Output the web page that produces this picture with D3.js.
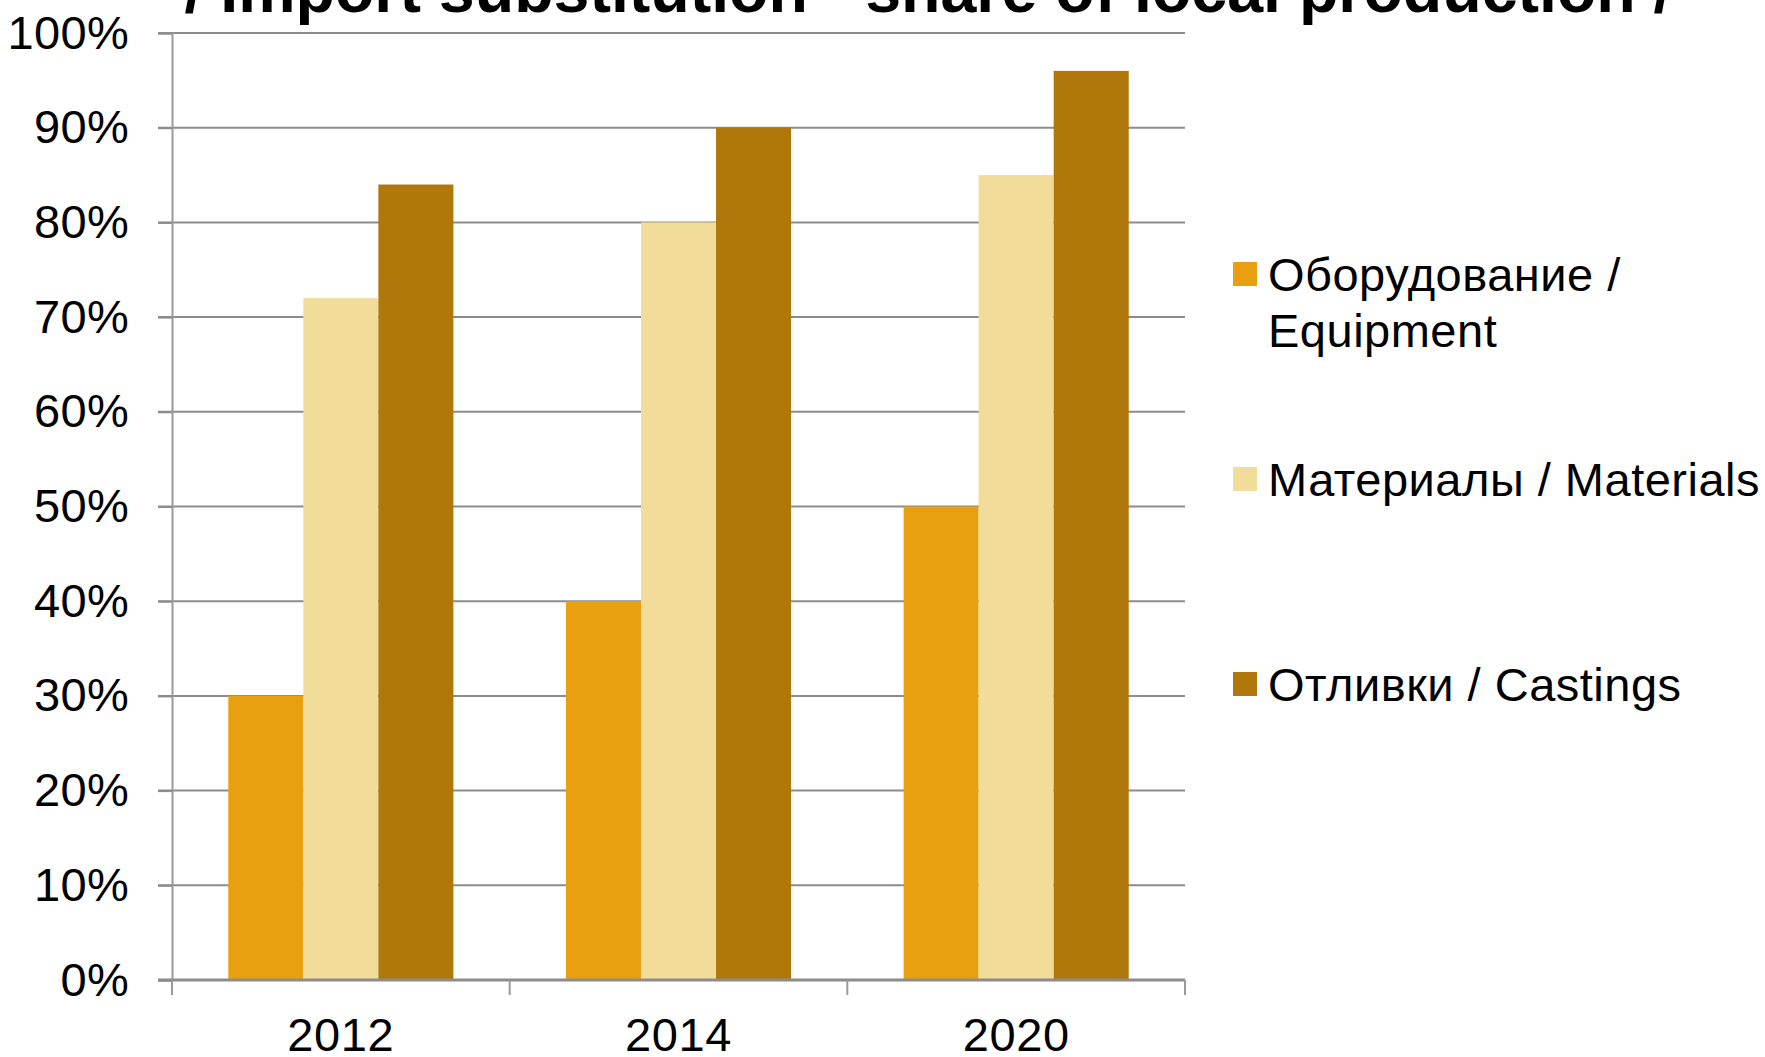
<!DOCTYPE html>
<html><head><meta charset="utf-8">
<script src="https://cdn.jsdelivr.net/npm/d3@7"></script>
<style>
html,body{margin:0;padding:0;background:#fff;}
svg{display:block;font-family:"Liberation Sans",Arial,sans-serif;}
</style></head>
<body>
<svg id="chart" width="1765" height="1057"></svg>
<script>
const categories = ["2012", "2014", "2020"];
const seriesNames = ["Оборудование / Equipment", "Материалы / Materials", "Отливки / Castings"];
const legendLines = [["Оборудование /", "Equipment"], ["Материалы / Materials"], ["Отливки / Castings"]];
const equipment = [0.30, 0.40, 0.50];
const materials = [0.72, 0.80, 0.85];
const castings = [0.84, 0.90, 0.96];
const yTicks = [0, 0.1, 0.2, 0.3, 0.4, 0.5, 0.6, 0.7, 0.8, 0.9, 1.0];
const colors = ["#E9A010", "#F2DC9A", "#B0770B"];
const titleText = "/ Import substitution - share of local production /";

const seriesValues = [equipment, materials, castings];
const svg = d3.select("#chart");

const x = d3.scaleBand().domain(categories).range([172, 1185]).paddingInner(0).paddingOuter(0);
const xs = d3.scaleBand().domain(d3.range(seriesNames.length)).range([0, x.bandwidth()]).paddingInner(0).paddingOuter(0.75);
const y = d3.scaleLinear().domain([0, 1]).range([980, 33]);

// gridlines
svg.append("g").selectAll("line").data(yTicks.filter(d => d > 0)).join("line")
  .attr("x1", 158).attr("x2", 1185)
  .attr("y1", d => y(d)).attr("y2", d => y(d))
  .attr("stroke", "#8c8c8c").attr("stroke-width", 2);

// bars
const g = svg.append("g");
categories.forEach((c, ci) => {
  seriesValues.forEach((vals, si) => {
    g.append("rect")
      .attr("x", x(c) + xs(si))
      .attr("y", y(vals[ci]))
      .attr("width", xs.bandwidth())
      .attr("height", y(0) - y(vals[ci]))
      .attr("fill", colors[si]);
  });
});

// y axis
const yAxis = d3.axisLeft(y).tickValues(yTicks).tickFormat(d3.format(".0%")).tickSize(14).tickPadding(29);
const ya = svg.append("g").attr("transform", "translate(172,0)").call(yAxis);
ya.select(".domain").attr("stroke", "#9a9a9a").attr("stroke-width", 2);
ya.selectAll(".tick line").attr("stroke", "#8c8c8c").attr("stroke-width", 2);
ya.selectAll("text").attr("font-size", 47).attr("letter-spacing", 0.3).attr("fill", "#000").attr("font-family", "Liberation Sans, Arial, sans-serif");

// x axis
const xAxis = d3.axisBottom(x).tickSize(0).tickPadding(38);
const xa = svg.append("g").attr("transform", "translate(0,980)").call(xAxis);
xa.select(".domain").remove();
xa.selectAll("text").attr("font-size", 47).attr("letter-spacing", 0.6).attr("fill", "#000").attr("font-family", "Liberation Sans, Arial, sans-serif");
svg.append("line").attr("x1", 158).attr("x2", 1185).attr("y1", 980).attr("y2", 980)
  .attr("stroke", "#8c8c8c").attr("stroke-width", 3);
const bounds = categories.map(c => x(c)).concat([x.range()[1]]);
svg.append("g").selectAll("line").data(bounds).join("line")
  .attr("x1", d => d).attr("x2", d => d).attr("y1", 980).attr("y2", 995)
  .attr("stroke", "#9a9a9a").attr("stroke-width", 2);

// legend
const legendY = [274, 479, 684];
const lg = svg.append("g");
legendLines.forEach((lines, i) => {
  lg.append("rect").attr("x", 1233).attr("y", legendY[i] - 12).attr("width", 24).attr("height", 24).attr("fill", colors[i]);
  lines.forEach((t, li) => {
    lg.append("text").attr("x", 1268).attr("y", legendY[i] + 17 + li * 56)
      .attr("font-size", 47).attr("letter-spacing", 0.5).attr("fill", "#000").text(t);
  });
});

// title (cut off at top)
svg.append("text").attr("x", 928).attr("y", 12).attr("text-anchor", "middle")
  .attr("font-size", 64.5).attr("font-weight", "bold").attr("fill", "#000").text(titleText);
</script>
</body></html>
